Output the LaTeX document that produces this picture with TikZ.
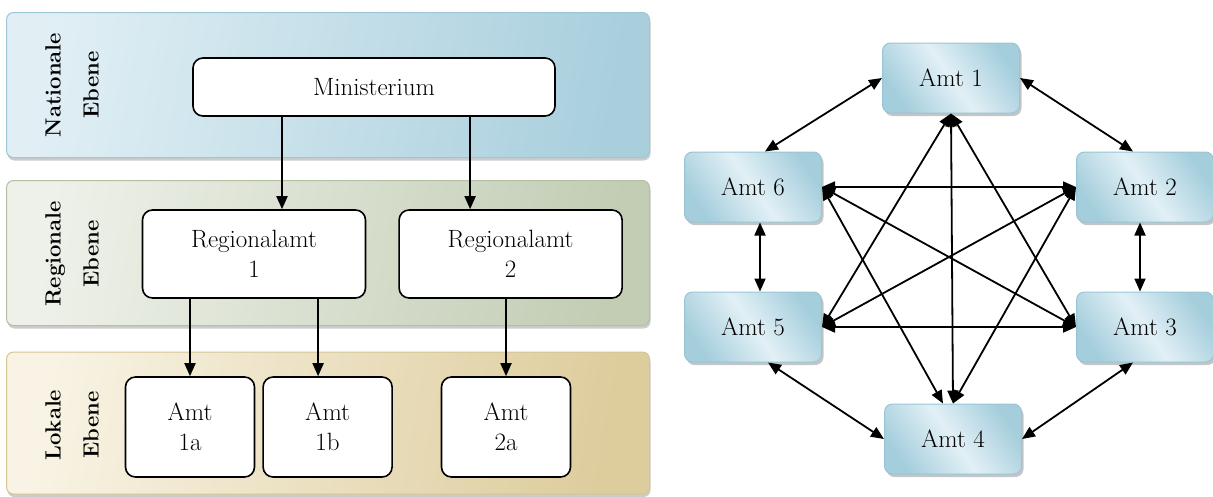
\documentclass[tikz,border=0pt]{standalone}
\usetikzlibrary{positioning,shadows,arrows.meta}
\definecolor{natlight}{HTML}{E1EFF5}
\definecolor{natdark}{HTML}{A9CFDD}
\definecolor{natline}{HTML}{9DC7D7}
\definecolor{reglight}{HTML}{EEF1E9}
\definecolor{regdark}{HTML}{C2CDB4}
\definecolor{regline}{HTML}{B3C0A3}
\definecolor{loklight}{HTML}{F8F3E4}
\definecolor{lokdark}{HTML}{DDCC9C}
\definecolor{lokline}{HTML}{D5C593}
\definecolor{amtlight}{HTML}{E2F0F6}
\definecolor{amtdark}{HTML}{A5CEDC}
\definecolor{amtline}{HTML}{98C5D5}
\begin{document}
\begin{tikzpicture}[x=1pt, y=-1pt, >={Triangle[length=13pt,width=11pt]}, line width=1.8pt,
		every node/.style={font=\fontsize{25}{30}\selectfont},
		band/.style={rounded corners=7pt, line width=1pt, minimum width=643pt, minimum height=145pt,
			drop shadow={shadow xshift=1pt, shadow yshift=-3pt, fill=black!40}},
		ebene/.style={rotate=90, align=center, font=\fontsize{22}{38}\selectfont\bfseries},
		office/.style={draw, fill=white, rounded corners=10pt, line width=1.6pt, align=center, inner sep=0pt},
		amt/.style={draw=amtline, line width=1pt, rounded corners=8pt, minimum width=137pt, minimum height=70pt,
			left color=amtdark, right color=amtdark, middle color=amtlight, shading angle=125,
			drop shadow={shadow xshift=2pt, shadow yshift=-3pt, fill=black!45}}]
		\useasboundingbox (0,0) rectangle (1213,496);
		% Ebenen
		\node (nat) [band, draw=natline, left color=natlight, right color=natdark, shading angle=80] at (328,85) {};
		\node (reg) [band, draw=regline, left color=reglight, right color=regdark, shading angle=80] at (328,253) {};
		\node (lok) [band, draw=lokline, left color=loklight, right color=lokdark, shading angle=80, minimum height=142pt] at (328,423) {};
		\node (natlabel) [ebene] at (72,85) {Nationale\\Ebene};
		\node (reglabel) [ebene] at (72,254) {Regionale\\Ebene};
		\node (loklabel) [ebene] at (72,425) {Lokale\\Ebene};
		% Hierarchie
		\node (min) [office, minimum width=362pt, minimum height=58pt] at (374,87) {Ministerium};
		\node (reg1) [office, minimum width=223pt, minimum height=88pt] at (254,254) {Regionalamt\\1};
		\node (reg2) [office, minimum width=223pt, minimum height=88pt, right=32pt of reg1] {Regionalamt\\2};
		\node (amt1a) [office, minimum width=129pt, minimum height=100pt] at (190,427) {Amt\\1a};
		\node (amt1b) [office, minimum width=129pt, minimum height=100pt, right=7pt of amt1a] {Amt\\1b};
		\node (amt2a) [office, minimum width=129pt, minimum height=100pt] at (506,427) {Amt\\2a};
		\coordinate (in1) at ([xshift=28pt]reg1.north);
		\coordinate (in2) at ([xshift=-40.5pt]reg2.north);
		\coordinate (in1b) at ([xshift=-9.5pt]amt1b.north);
		\draw[->] (min.south -| in1) -- (in1);
		\draw[->] (min.south -| in2) -- (in2);
		\draw[->] (reg1.south -| amt1a.north) -- (amt1a.north);
		\draw[->] (reg1.south -| in1b) -- (in1b);
		\draw[->] (reg2.south -| amt2a.north) -- (amt2a.north);
		% Netzwerk
		\node (a1) [amt] at (951,78) {Amt 1};
		\node (a6) [amt] at (753,187) {Amt 6};
		\node (a2) [amt] at (1145,187) {Amt 2};
		\node (a5) [amt] at (753,327) {Amt 5};
		\node (a3) [amt] at (1145,327) {Amt 3};
		\node (a4) [amt] at (953,439) {Amt 4};
		\draw[<->] (a1.west) -- ([xshift=12pt]a6.north);
		\draw[<->] (a1.east) -- ([xshift=-12pt]a2.north);
		\draw[<->] ([xshift=7pt]a6.south) -- ([xshift=7pt]a5.north);
		\draw[<->] ([xshift=-5pt]a2.south) -- ([xshift=-5pt]a3.north);
		\draw[<->] ([xshift=15pt]a5.south) -- (a4.west);
		\draw[<->] ([xshift=-12pt]a3.south) -- (a4.east);
		\draw[<->] (a1.south) -- (a5.east);
		\draw[<->] (a1.south) -- (a3.west);
		\draw[<->] (a1.south) -- (a4.north);
		\draw[<->] (a6.east) -- (a2.west);
		\draw[<->] (a6.east) -- (a3.west);
		\draw[<->] (a6.east) -- ([xshift=-10pt]a4.north);
		\draw[<->] (a2.west) -- (a5.east);
		\draw[<->] (a2.west) -- (a4.north);
		\draw[<->] (a5.east) -- (a3.west);
	\end{tikzpicture}
\end{document}
